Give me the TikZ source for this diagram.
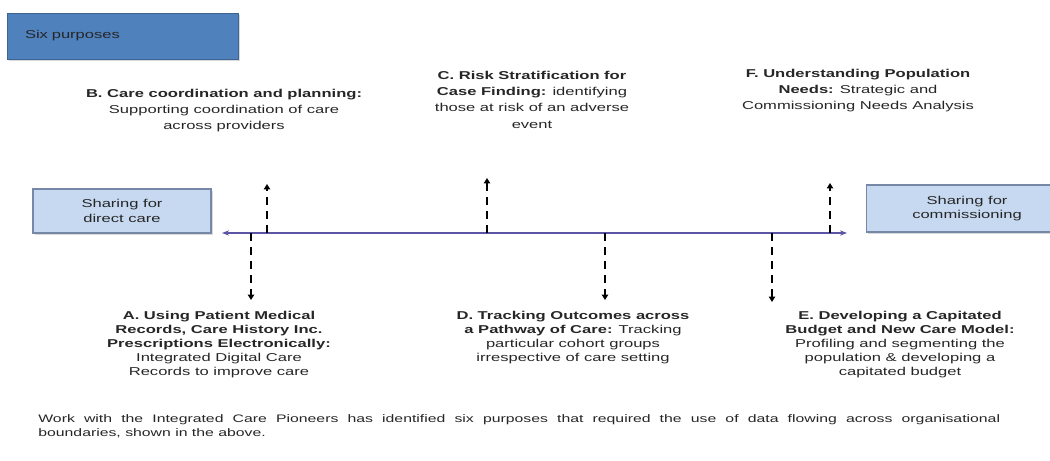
\documentclass[tikz,border=0pt]{standalone}
\usepackage{fontspec}
\setmainfont[FakeStretch=1.45]{Liberation Sans}
\usetikzlibrary{arrows.meta, positioning, shadows}
\usepackage{xcolor}
\definecolor{headblue}{RGB}{79,129,189}
\definecolor{headedge}{RGB}{62,100,148}
\definecolor{paleblue}{RGB}{198,217,241}
\definecolor{paleedge}{RGB}{118,136,166}
\definecolor{axisline}{RGB}{92,84,164}
\definecolor{ink}{RGB}{38,38,38}
\newcommand{\purposefont}{\fontsize{6.5}{8.25}\selectfont}
\newcommand{\upperfont}{\fontsize{6.5}{9.2}\selectfont}
\newcommand{\lowerfont}{\fontsize{6.5}{7.9}\selectfont}

\begin{document}
\begin{tikzpicture}[
    x=0.02cm, y=-0.02cm,
    header/.style={rectangle, draw=headedge, fill=headblue, minimum width=4.62cm, minimum height=0.92cm, inner xsep=0.36cm, text width=3.9cm, align=left, font=\purposefont, text=ink, drop shadow={opacity=0.3, shadow xshift=1pt, shadow yshift=-1.2pt}},
    sharebox/.style={rectangle, draw=paleedge, fill=paleblue, line width=0.6pt, align=center, font=\purposefont, text=ink, drop shadow={opacity=0.3, shadow xshift=1pt, shadow yshift=-1.2pt}},
    purpose/.style={anchor=north, inner sep=0pt, align=center, font=\upperfont, text=ink},
    axis/.style={{Stealth[length=4pt, width=3pt]}-{Stealth[length=4pt, width=3pt]}, line width=0.8pt, axisline},
    reach/.style={-{Triangle[length=3pt, width=3.5pt]}, line width=1.1pt, dash pattern=on 4.5pt off 3.5pt, black},
]
\useasboundingbox (0,0) rectangle (1050,460);
\clip (0,0) rectangle (1050,460);

% Title
\node[header] (title) at (122.5,36) {Six purposes};

% Ends of the scale
\node[sharebox, minimum width=3.56cm, minimum height=0.88cm] (direct) at (122,211) {Sharing for\\direct care};
\node[sharebox, minimum width=4.04cm, minimum height=0.94cm] (commission) at (967,208.5) {Sharing for\\commissioning};

% Scale
\coordinate (axL) at (222,233);
\coordinate (axR) at (847,233);
\draw[axis] (axL) -- (axR);

% Purposes above the scale
\node[purpose] (purB) at (224,89) {\textbf{B. Care coordination and planning:}\\Supporting coordination of care\\across providers};
\node[purpose] (purC) at (532,71) {\textbf{C. Risk Stratification for}\\\textbf{Case Finding:} identifying\\those at risk of an adverse\\event};
\node[purpose] (purF) at (858,69) {\textbf{F. Understanding Population}\\\textbf{Needs:} Strategic and\\Commissioning Needs Analysis};

% Purposes below the scale
\node[purpose, font=\lowerfont] (purA) at (219,311) {\textbf{A. Using Patient Medical}\\\textbf{Records, Care History Inc.}\\\textbf{Prescriptions Electronically:}\\Integrated Digital Care\\Records to improve care};
\node[purpose, font=\lowerfont] (purD) at (573,311) {\textbf{D. Tracking Outcomes across}\\\textbf{a Pathway of Care:} Tracking\\particular cohort groups\\irrespective of care setting};
\node[purpose, font=\lowerfont] (purE) at (900,311) {\textbf{E. Developing a Capitated}\\\textbf{Budget and New Care Model:}\\Profiling and segmenting the\\population \& developing a\\capitated budget};

% Dashed pointers
\coordinate (baseB) at (267,233); \coordinate (tipB) at (267,184);
\coordinate (baseC) at (487,233); \coordinate (tipC) at (487,178);
\coordinate (baseF) at (830,233); \coordinate (tipF) at (830,183);
\coordinate (baseA) at (251,233); \coordinate (tipA) at (251,300);
\coordinate (baseD) at (605,233); \coordinate (tipD) at (605,300);
\coordinate (baseE) at (772,233); \coordinate (tipE) at (772,302);
\foreach \p in {B,C,F,A,D,E}
    \draw[reach] (base\p) -- (tip\p);

% Note
\node[anchor=north west, inner sep=0pt, text width=19.24cm, align=justify, font=\fontsize{6.2}{8}\selectfont, text=ink] (note) at (38,414) {Work with the Integrated Care Pioneers has identified six purposes that required the use of data flowing across organisational\linebreak boundaries, shown in the above.};

\end{tikzpicture}
\end{document}
